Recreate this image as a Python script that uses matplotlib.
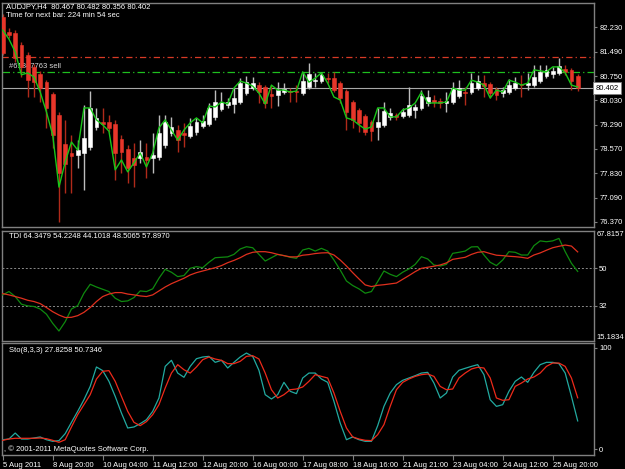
import matplotlib
matplotlib.use("Agg")
import matplotlib.pyplot as plt

# AUDJPY H4 candles
opens = [82.55, 82.09, 82.06, 81.70, 81.40, 81.04, 80.83, 80.58, 80.22, 79.59,
         78.71, 78.44, 78.38, 78.44, 78.62, 79.23, 79.38, 79.38, 79.32, 78.86,
         78.56, 78.29, 78.29, 78.32, 78.29, 78.32, 78.68, 79.04, 79.13, 79.04,
         78.95, 79.07, 79.26, 79.32, 79.53, 79.77, 79.89, 79.92, 79.98, 80.25,
         80.40, 80.49, 80.43, 80.22, 80.19, 80.28, 80.31, 80.31, 80.25, 80.43,
         80.61, 80.61, 80.70, 80.70, 80.55, 80.31, 79.98, 79.74, 79.56, 79.38,
         79.23, 79.29, 79.53, 79.59, 79.56, 79.59, 79.74, 79.80, 79.95, 80.04,
         80.01, 79.95, 79.98, 80.16, 80.28, 80.28, 80.40, 80.55, 80.52, 80.37,
         80.25, 80.28, 80.40, 80.52, 80.49, 80.49, 80.61, 80.77, 80.83, 80.86,
         80.98, 80.95, 80.77]
highs = [82.64, 82.21, 82.15, 81.79, 81.49, 81.13, 80.92, 80.64, 80.28, 79.68,
         79.44, 78.98, 78.83, 79.89, 80.31, 79.80, 79.80, 79.59, 79.44, 78.98,
         78.68, 78.74, 78.83, 78.74, 79.04, 79.59, 79.59, 79.53, 79.29, 79.35,
         79.50, 79.50, 79.59, 79.95, 80.34, 80.28, 80.10, 80.40, 80.70, 80.77,
         80.73, 80.58, 80.49, 80.49, 80.58, 80.55, 80.40, 80.49, 80.89, 81.16,
         80.86, 80.89, 80.86, 80.89, 80.61, 80.37, 80.04, 79.80, 79.62, 79.44,
         79.80, 79.98, 79.80, 79.65, 79.80, 80.43, 79.92, 80.34, 80.34, 80.19,
         80.10, 80.28, 80.58, 80.64, 80.43, 80.86, 80.80, 80.80, 80.58, 80.43,
         80.43, 80.67, 80.73, 80.80, 80.86, 81.10, 81.10, 81.10, 81.04, 81.31,
         81.10, 81.01, 80.83]
lows = [81.40, 81.91, 81.19, 80.73, 80.13, 80.13, 79.98, 79.20, 78.59, 76.36,
        77.23, 77.23, 77.99, 77.32, 78.53, 79.13, 79.04, 79.07, 77.62, 77.84,
        77.53, 77.41, 78.14, 77.68, 77.84, 78.23, 78.59, 78.95, 78.47, 78.62,
        78.89, 78.98, 79.20, 79.26, 79.44, 79.71, 79.80, 79.65, 79.92, 80.19,
        80.34, 79.95, 79.80, 79.80, 79.86, 80.22, 79.98, 79.98, 80.19, 80.37,
        80.43, 80.55, 80.55, 80.28, 79.95, 79.13, 79.20, 79.07, 78.98, 78.80,
        78.83, 79.23, 79.44, 79.44, 79.50, 79.53, 79.50, 79.74, 79.86, 79.83,
        79.80, 79.68, 79.92, 80.10, 79.89, 80.22, 80.34, 80.13, 80.10, 80.04,
        80.13, 80.22, 80.34, 80.13, 80.34, 80.43, 80.55, 80.70, 80.70, 80.80,
        80.80, 80.34, 80.31]
closes = [81.46, 82.00, 81.31, 81.04, 80.64, 80.58, 80.40, 79.80, 78.98, 77.84,
          78.11, 78.35, 78.53, 78.89, 79.80, 79.50, 79.32, 79.20, 78.44, 78.47,
          77.99, 78.08, 78.47, 78.23, 78.38, 79.04, 79.38, 79.23, 78.83, 78.98,
          79.26, 79.38, 79.41, 79.80, 79.98, 79.98, 79.98, 80.10, 80.55, 80.58,
          80.55, 80.28, 79.95, 80.16, 80.34, 80.37, 80.28, 80.28, 80.61, 80.83,
          80.64, 80.80, 80.67, 80.34, 80.10, 79.68, 79.44, 79.35, 79.07, 79.10,
          79.38, 79.71, 79.65, 79.53, 79.68, 79.89, 79.83, 80.16, 80.13, 79.98,
          79.95, 80.01, 80.40, 80.40, 80.25, 80.55, 80.61, 80.46, 80.25, 80.19,
          80.34, 80.49, 80.55, 80.49, 80.55, 80.73, 80.89, 80.95, 80.92, 81.07,
          80.89, 80.61, 80.40]
# green line on the price chart
price_line = [82.15, 81.88, 81.49, 80.80, 80.86, 80.73, 80.28, 79.68, 78.98, 77.41,
              78.17, 78.77, 78.53, 79.80, 79.80, 79.44, 79.29, 79.10, 77.93, 78.23,
              77.87, 78.14, 78.44, 78.02, 78.44, 79.20, 79.44, 79.13, 78.83, 79.13,
              79.35, 79.50, 79.35, 79.86, 79.83, 79.98, 79.92, 80.40, 80.61, 80.55,
              80.46, 80.25, 79.92, 80.49, 80.34, 80.34, 80.28, 80.31, 80.89, 80.58,
              80.70, 80.86, 80.55, 80.13, 80.04, 79.50, 79.44, 79.29, 79.16, 79.23,
              79.80, 79.80, 79.53, 79.53, 79.74, 79.80, 79.95, 80.28, 79.95, 79.95,
              79.95, 79.98, 80.40, 80.34, 80.34, 80.64, 80.58, 80.49, 80.10, 80.34,
              80.28, 80.64, 80.58, 80.49, 80.55, 80.95, 80.92, 80.89, 81.04, 81.04,
              80.86, 80.49, 80.43]

tdi_green = [37.2, 38.8, 36.4, 32.7, 31.9, 31.6, 30.4, 27.9, 23.5, 19.8,
             24.3, 30.4, 32.0, 38.0, 42.3, 41.0, 39.9, 38.8, 35.6, 34.0,
             34.3, 35.9, 39.1, 38.8, 40.1, 45.2, 49.5, 48.1, 46.0, 46.5,
             50.0, 50.8, 50.3, 52.9, 55.1, 55.3, 55.5, 56.7, 59.3, 60.4,
             59.9, 56.7, 53.5, 55.1, 56.7, 56.1, 55.3, 54.8, 58.8, 59.6,
             58.3, 59.6, 58.3, 54.0, 49.2, 43.9, 41.7, 40.1, 38.0, 38.8,
             43.6, 48.7, 47.1, 46.0, 48.1, 49.7, 51.9, 55.6, 54.5, 51.6,
             51.1, 51.9, 57.2, 57.7, 58.3, 60.3, 60.4, 56.4, 52.9, 51.3,
             54.0, 58.0, 57.7, 56.4, 56.4, 60.9, 63.2, 62.8, 63.2, 64.4,
             58.0, 52.4, 48.5]
tdi_red = [37.8, 37.2, 36.4, 35.6, 34.6, 34.0, 33.0, 31.1, 29.1, 27.5,
           26.3, 26.4, 27.2, 28.8, 31.1, 34.0, 36.4, 37.6, 38.3, 38.3,
           37.6, 37.2, 36.7, 36.4, 37.2, 39.1, 41.0, 42.6, 43.9, 45.2,
           46.8, 47.9, 48.7, 49.5, 50.3, 51.3, 52.7, 53.8, 55.1, 56.7,
           57.7, 58.0, 58.0, 57.5, 56.7, 56.1, 55.5, 55.5, 56.3, 56.6,
           57.1, 57.4, 57.5, 56.4, 54.0, 51.1, 47.9, 44.9, 42.0, 41.2,
           41.8, 42.1, 42.5, 42.9, 44.7, 46.5, 48.4, 50.0, 50.5, 51.0,
           51.6, 52.6, 54.3, 54.8, 55.3, 56.7, 57.7, 58.0, 57.1, 56.3,
           56.1, 55.8, 55.6, 55.3, 54.8, 56.4, 57.4, 58.7, 59.9, 60.6,
           61.2, 60.7, 57.9]

sto_main = [9.2, 9.9, 15.8, 9.9, 9.9, 10.9, 11.9, 9.2, 7.6, 8.3,
            15.2, 26.4, 37.3, 48.8, 62.0, 81.2, 77.6, 67.0, 52.1, 35.6,
            20.8, 21.8, 25.1, 29.0, 37.3, 50.5, 81.8, 87.8, 75.2, 71.0,
            81.8, 89.4, 91.1, 91.7, 85.8, 87.8, 80.2, 85.8, 91.1, 95.0,
            91.7, 77.9, 53.8, 49.5, 53.8, 66.0, 57.1, 54.8, 70.3, 75.2,
            75.2, 69.3, 66.0, 47.2, 25.7, 9.2, 11.9, 9.2, 7.6, 7.6,
            23.1, 42.2, 55.4, 63.7, 68.0, 70.3, 72.6, 75.2, 75.9, 65.3,
            50.5, 55.4, 71.3, 77.9, 79.9, 81.8, 83.5, 73.6, 48.8, 42.2,
            43.9, 57.1, 67.0, 71.3, 66.0, 75.9, 83.5, 85.8, 85.8, 84.5,
            75.2, 52.1, 27.8]
sto_signal = [8.6, 9.9, 10.6, 10.6, 10.6, 10.6, 10.9, 10.2, 8.6, 6.6,
              9.2, 21.8, 34.0, 43.9, 53.8, 69.3, 76.9, 77.6, 67.0, 52.1,
              37.3, 26.4, 23.1, 27.1, 34.0, 43.9, 60.4, 75.2, 83.5, 78.5,
              75.2, 81.2, 88.4, 91.1, 89.1, 87.8, 84.5, 84.5, 86.8, 91.7,
              92.4, 89.1, 75.2, 58.7, 50.5, 53.8, 58.7, 59.4, 61.4, 67.0,
              73.6, 71.9, 70.3, 55.4, 37.3, 20.8, 11.9, 9.9, 8.6, 8.3,
              14.2, 24.1, 42.2, 58.7, 66.0, 69.3, 71.9, 73.6, 74.3, 71.9,
              62.0, 58.7, 59.4, 70.3, 75.2, 79.2, 80.9, 80.2, 70.3, 50.5,
              48.2, 48.8, 62.0, 65.3, 69.3, 71.3, 75.2, 81.8, 85.1, 85.1,
              81.8, 70.3, 50.7]

price_ticks = [82.230, 81.490, 80.750, 80.030, 79.290, 78.570, 77.830, 77.090, 76.370]
bid_price = 80.402
sell_level = 81.34
stop_level = 80.89
time_labels = ["5 Aug 2011", "8 Aug 20:00", "10 Aug 04:00", "11 Aug 12:00",
               "12 Aug 20:00", "16 Aug 00:00", "17 Aug 08:00", "18 Aug 16:00",
               "21 Aug 21:00", "23 Aug 04:00", "24 Aug 12:00", "25 Aug 20:00"]
time_label_bars = [0, 8, 16, 24, 32, 40, 48, 56, 64, 72, 80, 88]

plt.rcParams["font.family"] = ["Liberation Sans", "DejaVu Sans"]

BG = "black"
FRAME = "#808080"
TXT = "white"
FS = 5.5

W, H = 625, 469


def panel(fig, top, bottom):
    ax = fig.add_axes([2 / W, 1 - bottom / H, 592 / W, (bottom - top) / H])
    ax.set_facecolor(BG)
    for s in ax.spines.values():
        s.set_color(FRAME)
        s.set_linewidth(1)
    ax.set_xlim(-0.112, 94.61)
    ax.set_xticks([])
    ax.yaxis.tick_right()
    ax.tick_params(axis="y", colors=FRAME, labelcolor=TXT, labelsize=FS,
                   length=2.5, pad=1.2)
    return ax


fig = plt.figure(figsize=(W / 100, H / 100), dpi=100, facecolor=BG)
bars = list(range(len(opens)))

# ---- price panel
ax1 = panel(fig, 3, 227)
ax1.set_ylim(76.205, 82.969)
ax1.set_yticks(price_ticks)
ax1.set_yticklabels(["%.3f" % p for p in price_ticks])

ax1.axhline(sell_level, color="#d83a26", lw=0.9, ls=(0, (5, 2.5, 1, 2.5)), zorder=1)
ax1.axhline(stop_level, color="#1fbf1f", lw=0.9, ls=(0, (6, 2.5, 1, 2.5)), zorder=1)
ax1.axhline(bid_price, color="#a8a8a8", lw=0.8, zorder=1)
ax1.text(0.011, 81.04, "#61847763 sell", color="#d8d8d8", fontsize=FS,
         transform=ax1.get_yaxis_transform(), va="center", zorder=1.5)

bull = [c >= o for o, c in zip(opens, closes)]
body_lo = [min(o, c) for o, c in zip(opens, closes)]
body_h = [max(abs(c - o), 0.03) for o, c in zip(opens, closes)]
wick_col = ["#bdbdbd" if b else "#b02a1a" for b in bull]
body_col = ["white" if b else "#e8362a" for b in bull]

ax1.vlines(bars, lows, highs, colors=wick_col, lw=1, zorder=2)
ax1.bar(bars, body_h, bottom=body_lo, width=0.62, color=body_col,
        edgecolor=body_col, linewidth=0.4, zorder=3)
ax1.plot(bars, price_line, color="#19c619", lw=1, zorder=4)

ax1.text(1.003, bid_price, "80.402", transform=ax1.get_yaxis_transform(),
         ha="left", va="center", fontsize=FS, color="black", zorder=6,
         clip_on=False,
         bbox=dict(boxstyle="square,pad=0.3", facecolor="white", edgecolor="#808080", lw=0.6))

ax1.text(0.006, 0.982, "AUDJPY,H4  80.467 80.482 80.356 80.402", color=TXT,
         fontsize=FS, transform=ax1.transAxes, va="center", ha="left", zorder=7)
ax1.text(0.006, 0.942, "Time for next bar: 224 min 54 sec", color=TXT,
         fontsize=FS, transform=ax1.transAxes, va="center", ha="left", zorder=7)

# ---- TDI panel
ax2 = panel(fig, 231.3, 340.6)
ax2.set_ylim(15.1834, 67.8157)
ax2.set_yticks([50, 32])
ax2.set_yticklabels(["50", "32"])
for lvl in (50, 32):
    ax2.axhline(lvl, color="#8a8a8a", lw=0.7, ls=(0, (2, 2)), zorder=1)
ax2.text(1.005, 67.8157, "67.8157", color=TXT, fontsize=FS, va="top", ha="left",
         transform=ax2.get_yaxis_transform(), clip_on=False)
ax2.text(1.005, 15.1834, "15.1834", color=TXT, fontsize=FS, va="bottom", ha="left",
         transform=ax2.get_yaxis_transform(), clip_on=False)
ax2.plot(bars, tdi_green, color="#0f8a0f", lw=0.9, zorder=3)
ax2.plot(bars, tdi_red, color="#e0301e", lw=0.9, zorder=4)
ax2.text(0.012, 0.948, "TDI 64.3479 54.2248 44.1018 48.5065 57.8970", color=TXT,
         fontsize=FS, transform=ax2.transAxes, va="center", ha="left")

# ---- Stochastic panel
ax3 = panel(fig, 343, 455)
ax3.set_ylim(-5.94, 104.95)
ax3.set_yticks([100, 0])
ax3.set_yticklabels(["100", "0"])
ax3.plot(bars, sto_main, color="#22aaa0", lw=0.9, zorder=3)
ax3.plot(bars, sto_signal, color="#ee2a1a", lw=0.9, zorder=4)
ax3.text(0.012, 0.929, "Sto(8,3,3) 27.8258 50.7346", color=TXT,
         fontsize=FS, transform=ax3.transAxes, va="center", ha="left")
ax3.text(0.004, 0.054, ", \u00a9 2001-2011 MetaQuotes Software Corp.", color=TXT,
         fontsize=FS, transform=ax3.transAxes, va="center", ha="left")

ax3.set_xticks(time_label_bars)
ax3.set_xticklabels(time_labels, ha="left")
ax3.tick_params(axis="x", colors=FRAME, labelcolor=TXT, labelsize=FS,
                length=3.5, pad=1.5, direction="out")

fig.savefig("out.png", dpi=100, facecolor=BG)
